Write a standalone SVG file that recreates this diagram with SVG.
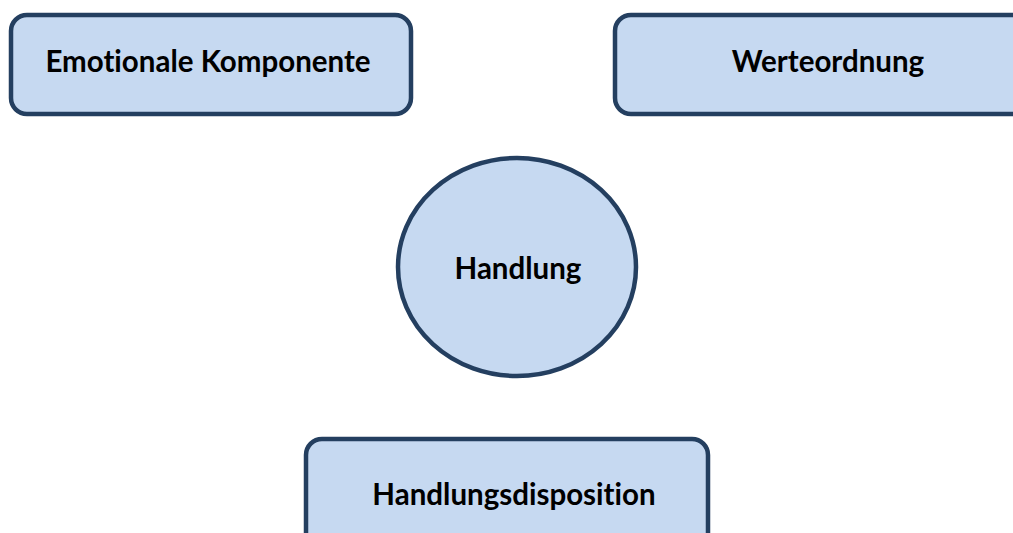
<svg xmlns="http://www.w3.org/2000/svg" width="1013" height="533" viewBox="0 0 1013 533">
<style>
.n{fill:#c6d9f1;stroke:#243f60;stroke-width:4.5}
.t{font-family:Lato,"Open Sans","Liberation Sans",sans-serif;font-weight:bold;font-size:29.5px;fill:#000;text-anchor:middle;font-variant-ligatures:none}
</style>
<rect width="1013" height="533" fill="#fff"/>
<g id="connectors"></g>
<g id="emotionale">
<rect class="n" x="11" y="15" width="400" height="99" rx="16"/>
<text class="t" x="208" y="72">Emotionale Komponente</text>
</g>
<g id="werteordnung">
<rect class="n" x="615" y="15" width="420" height="99" rx="16"/>
<text class="t" x="828" y="72">Werteordnung</text>
</g>
<g id="handlung">
<ellipse class="n" cx="517" cy="267" rx="119" ry="109"/>
<text class="t" x="518" y="279">Handlung</text>
</g>
<g id="handlungsdisposition">
<rect class="n" x="306" y="439" width="402" height="120" rx="16"/>
<text class="t" x="514" y="505">Handlungsdisposition</text>
</g>
</svg>
